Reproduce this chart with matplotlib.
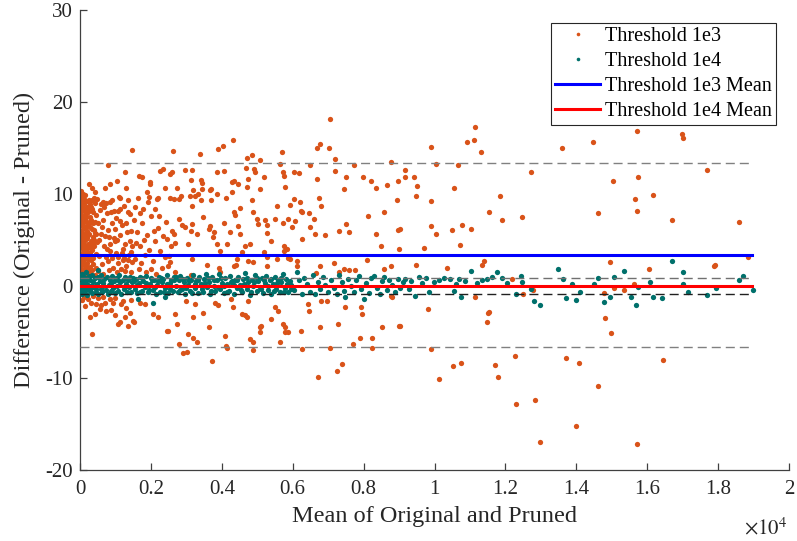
import numpy as np
import matplotlib.pyplot as plt
from matplotlib.lines import Line2D
from matplotlib.ticker import FuncFormatter

plt.rcParams['font.family'] = ['Liberation Serif', 'DejaVu Serif']
plt.rcParams['mathtext.fontset'] = 'stix'
plt.rcParams['axes.unicode_minus'] = False

# ---- Threshold 1e3 : (mean, difference) points ----
t3_dense_left = [
    (20, 9.6), (60, 8.8), (150, 9.9), (90, 9.2), (250, 9.4), (30, 8.1), (120, 8.4), (200, 7.9),
    (310, 8.6), (40, 7.3), (100, 7.6), (180, 7.1), (280, 7.5), (380, 8.0), (15, 6.6), (70, 6.9),
    (140, 6.4), (230, 6.8), (330, 6.2), (420, 7.0), (50, 5.8), (110, 5.5), (190, 6.0), (260, 5.7),
    (360, 5.3), (25, 5.0), (80, 4.7), (160, 5.1), (220, 4.6), (300, 4.9), (400, 4.4), (45, 4.1),
    (130, 3.9), (210, 4.2), (270, 3.6), (350, 3.9), (10, 3.4), (90, 3.2), (170, 3.0), (240, 3.3),
    (320, 2.8), (440, 3.5), (55, 2.6), (120, 2.3), (200, 2.5), (290, 2.1), (380, 2.4), (30, 1.9),
    (80, 1.6), (150, 1.8), (230, 1.4), (340, 1.7), (60, 1.2), (110, 8.9), (350, 9.3), (430, 9.0),
    (5, 7.8), (65, 5.3), (175, 4.3), (255, 2.0), (395, 6.1), (10, 5.9), (135, 7.3), (305, 3.2),
    (60, 9.4), (185, 8.6), (415, 5.8), (35, 2.9), (240, 9.1), (300, 7.0), (5, 1.3), (160, 1.1),
    (450, 2.0), (100, 4.4), (220, 5.5), (370, 4.6), (20, 10.3), (80, 10.0), (330, 10.6),
    (0, 9.0), (45, 9.9), (120, 9.5), (200, 9.2), (280, 8.9), (400, 9.6), (15, 8.5), (75, 8.3),
    (140, 8.0), (250, 8.2), (350, 8.4), (10, 7.0), (55, 7.6), (160, 7.5), (210, 6.5), (320, 7.2),
    (90, 6.2), (150, 5.7), (280, 6.4), (370, 6.8), (0, 5.5), (40, 4.6), (120, 4.9), (190, 5.2),
    (250, 4.2), (320, 4.4), (20, 4.2), (70, 3.7), (150, 3.4), (200, 3.8), (0, 2.8), (95, 2.7),
    (175, 2.2), (260, 2.9), (30, 2.3), (110, 1.5), (200, 1.2), (280, 1.6), (360, 3.0), (0, 1.0),
    (70, 0.9), (420, 1.2), (390, 5.0), (440, 5.6),
]
t3_dense_mid = [
    (480, 9.5), (560, 8.3), (650, 7.2), (720, 9.0), (800, 6.1), (870, 8.0), (950, 5.2), (1020, 7.4),
    (1100, 9.7), (1180, 6.6), (1250, 8.7), (1330, 5.9), (1420, 7.8), (1480, 4.4), (500, 6.9),
    (590, 5.6), (680, 4.3), (760, 7.9), (840, 3.8), (910, 6.8), (990, 4.9), (1060, 3.1), (1140, 5.5),
    (1210, 4.0), (1290, 6.9), (1370, 3.4), (1450, 6.0), (470, 4.8), (540, 3.3), (620, 2.4),
    (700, 5.4), (780, 2.7), (850, 4.6), (930, 2.0), (1010, 3.6), (1080, 2.5), (1160, 1.9),
    (1240, 3.0), (1310, 2.2), (1400, 4.9), (1470, 2.6), (520, 1.6), (600, 8.9), (640, 1.3),
    (730, 3.2), (820, 1.7), (890, 9.4), (960, 8.2), (1040, 1.5), (1120, 8.4), (1200, 2.8),
    (1270, 1.6), (1350, 8.0), (1440, 1.5), (460, 7.7), (530, 5.0), (610, 6.4), (690, 8.6),
    (760, 4.0), (830, 5.3), (900, 3.0), (980, 6.2), (1050, 5.0), (1130, 7.1), (1190, 3.6),
    (1280, 4.6), (1360, 2.8), (1430, 3.7), (850, 9.1), (650, 9.1), (1130, 9.6), (1360, 9.3),
    (1070, 8.2), (180, 8.2),
]
t3_fill = [
    (1520, 7.2), (1600, 5.9), (1680, 4.3), (1750, 6.8), (1830, 3.4), (1900, 5.5), (1990, 7.6),
    (2050, 2.7), (2120, 4.9), (2190, 6.3), (2270, 3.8), (2340, 5.4), (2420, 7.0), (2480, 2.2),
    (2560, 4.4), (1560, 2.9), (1650, 1.8), (1720, 2.5), (1860, 1.5), (1950, 3.9), (2010, 1.9),
    (2150, 1.3), (2300, 2.0), (2390, 3.1), (2600, 6.0), (1580, 4.7), (1700, 7.9), (1800, 5.0),
    (2080, 6.0), (2240, 7.6), (2450, 5.1), (2520, 3.3), (1550, 8.6), (1780, 8.4), (2110, 8.4),
    (1640, 9.6), (1920, 9.1), (2200, 9.6), (2530, 9.6),
]
t3_upper = [
    (240, 11.1), (420, 10.2), (710, 10.6), (790, 13.2), (850, 11.1), (1040, 11.4), (1270, 12.4),
    (1300, 10.7), (1460, 14.8), (1650, 12.0), (1740, 11.9), (1960, 11.3), (1980, 11.1),
    (2260, 12.5), (2340, 12.7), (2390, 10.7), (2540, 12.2), (2590, 12.4), (2620, 14.7),
    (2730, 10.65), (2970, 12.6), (3130, 11.5), (3150, 12.6), (3200, 10.4), (3390, 14.3),
    (3410, 11.5), (3440, 11.2), (3440, 10.5), (3690, 10.5), (3340, 10.0), (3860, 12.4),
    (3900, 14.9), (4040, 15.2), (4070, 12.5), (4280, 11.3), (4300, 10.25), (4310, 15.9),
    (4330, 11.4), (4450, 11.1), (4680, 12.8), (4710, 10.8), (4720, 13.9), (4750, 11.6),
    (4850, 14.2), (4920, 12.7), (4950, 12.4), (5080, 13.7), (5080, 10.5), (5180, 11.8),
    (5630, 13.3), (5700, 14.6), (5730, 12.4), (5740, 12.0), (5790, 10.8), (6030, 12.4),
    (6190, 12.3), (6480, 13.2), (6690, 15.0), (6690, 11.6), (6760, 15.4), (7010, 15.0),
    (7060, 18.1), (7180, 13.8), (7200, 12.5), (7440, 10.5), (7510, 11.9), (7720, 13.1),
    (7990, 11.8), (8210, 11.4), (8360, 10.7), (8660, 11.0), (8760, 13.5), (8960, 11.4),
]
t3_mid = [
    (1880, 10.2), (1950, 9.7), (2170, 9.5), (2640, 9.5), (2840, 9.8), (3110, 9.8), (3230, 9.8),
    (3670, 10.4), (3860, 10.0), (4120, 9.6), (2780, 9.5), (3410, 9.4), (3700, 9.3), (3160, 8.7),
    (4330, 8.0), (4520, 8.5), (4850, 9.3), (4890, 8.0), (4990, 7.3), (5010, 6.7), (5230, 7.2),
    (5270, 6.6), (5510, 7.3), (5560, 8.7), (5880, 7.3), (5930, 8.8), (6030, 9.5), (6210, 9.1),
    (6240, 8.2), (6260, 8.0), (6070, 7.1), (6450, 7.9), (6480, 6.4), (6590, 7.3), (6640, 5.65),
    (6730, 9.6), (6800, 8.7), (6920, 5.5), (7300, 6.0), (7490, 6.7), (7580, 5.9), (8120, 7.6),
    (8580, 8.0), (8350, 5.7), (8970, 6.1), (8930, 9.3), (2780, 7.3), (2870, 6.6), (2970, 6.4),
    (3150, 6.7), (3130, 6.0), (3480, 7.5), (3670, 6.5), (2640, 5.7), (3310, 5.65), (3750, 5.3),
    (2680, 4.7), (3060, 4.6), (3950, 3.8), (2540, 2.6), (3150, 2.9), (3580, 2.3), (3910, 2.0),
    (2680, 1.55), (3130, 1.2), (3950, 1.5), (3630, 6.2), (3770, 5.9), (3860, 4.6), (4220, 5.9),
    (4050, 6.9), (4360, 7.7), (4470, 6.5), (4500, 5.6), (4160, 4.6), (4410, 2.3), (4330, 2.2),
    (4430, 2.9), (4660, 4.4), (4570, 3.7), (4730, 2.75), (4890, 2.6), (4800, 4.6), (5180, 3.7),
    (5270, 3.1), (5270, 2.2), (5270, 5.8), (5390, 4.9), (5560, 2.9), (5740, 4.4), (5740, 3.8),
    (5840, 4.0), (5730, 6.9), (5980, 6.4), (5880, 3.0), (5930, 2.9), (6120, 2.75), (6120, 2.2),
    (6260, 5.1), (6780, 2.2), (6650, 1.4), (7170, 2.5), (7300, 1.55), (7440, 1.8), (7600, 1.7),
    (7770, 1.7), (8100, 2.85), (8480, 4.35), (8570, 1.8), (8760, 2.2), (8990, 4.0),
]
t3_lower = [
    (230, -1.4), (270, -3.4), (340, -5.2), (460, -2.0), (600, -2.1), (650, -1.2), (740, -2.7),
    (840, -1.4), (930, -1.8), (980, -3.2), (1120, -3.95), (1170, -2.0), (1260, -3.4),
    (1360, -4.3), (1400, -2.9), (1500, -3.8), (1690, -1.8), (1830, -2.0), (2060, -3.0),
    (2200, -3.4), (2440, -4.9), (2670, -3.0), (2740, -4.1), (2780, -6.3), (2900, -7.3),
    (3010, -7.2), (3000, -1.6), (3050, -5.2), (3190, -5.6), (3240, -2.0), (3190, -3.4),
    (3290, -6.1), (3470, -2.9), (3640, -4.5), (3720, -8.1), (3800, -1.8), (3900, -2.1),
    (4090, -5.4), (4130, -6.5), (4270, -1.4), (4320, -2.3), (4560, -3.0), (4650, -3.2),
    (4750, -1.6), (4790, -5.8), (4890, -6.1), (4890, -7.0), (5080, -4.5), (5080, -5.0),
    (5400, -3.6), (5500, -2.3), (5590, -2.7), (5640, -6.1), (5730, -4.1), (5780, -4.5),
    (5880, -5.0), (6220, -4.9), (6250, -6.8), (6440, -2.0), (6470, -2.7), (6720, -9.9),
    (6770, -4.5), (6800, -1.6), (6960, -1.6), (7050, -6.7), (7240, -9.2), (7290, -4.1),
    (7380, -8.5), (7480, -2.3), (7710, -6.3), (7900, -5.6), (7930, -2.3), (7950, -3.0),
    (8230, -5.6), (8230, -6.7), (8510, -4.5), (8780, -1.05), (8990, -4.3), (8800, -1.2),
    (565, -2.5), (1080, -4.1), (1510, -3.9), (2490, -4.9), (4140, -6.7), (4710, -3.4),
    (5100, -4.3), (5790, -5.0), (50, -1.5), (150, -2.2), (320, -1.8), (420, -3.0), (520, -1.3),
    (700, -1.9), (880, -2.6), (1000, -1.3), (1220, -1.6), (1300, -2.4), (1450, -1.5),
    (110, -1.2), (380, -1.1),
]
t3_right = [
    (9890, 15.1), (10030, 13.3), (9180, 12.6), (9180, 11.8), (9420, 11.9), (9510, 10.9),
    (9490, 9.75), (9910, 9.2), (9040, 6.2), (9910, 6.5), (10030, 5.6), (9700, 4.1), (9490, 2.3),
    (10360, 2.0), (10500, 6.1), (10780, 6.6), (10710, 4.5), (11020, 6.2), (10550, 10.65),
    (10660, 13.2), (10920, 15.7), (11110, 15.9), (11130, 17.25), (11320, 14.6), (11540, 8.0),
    (11860, 9.8), (11910, 7.2), (12460, 7.5), (12710, 12.4), (11390, 2.75), (11350, 2.3),
    (13590, 15.0), (14470, 15.7), (14600, 7.9), (14950, 2.6), (15040, 11.4), (15720, 16.9),
    (15740, 11.8), (15660, 9.5), (15710, 8.1), (16150, 9.9), (16050, 1.9), (16970, 16.5),
    (17000, 16.05), (16710, 7.2), (17700, 12.6), (17910, 2.3), (18580, 7.0), (18830, 3.2),
    (9810, -2.5), (9040, -4.3), (9910, -6.8), (10120, -10.1), (10530, -8.7), (10750, -8.4),
    (11130, -1.2), (11510, -2.9), (11490, -3.9), (11710, -8.6), (11790, -9.9), (12190, 0.76),
    (12270, -7.6), (12290, -12.8), (12500, -0.9), (12830, -12.4), (12980, -17.0), (12780, -0.4),
    (13720, -7.8), (13980, -15.2), (14080, -8.4), (14600, -10.9), (14820, -3.5), (14990, -5.1),
    (15070, -0.25), (15630, 0.2), (15720, -17.2), (16440, -8.0), (15350, -0.4), (11540, -2.8),
    (14780, -0.8), (17890, 2.2),
]

# ---- Threshold 1e4 : points ----
t4_band_left = [
    (10, 0.9), (20, -0.6), (35, 0.2), (50, 1.3), (60, -0.9), (75, 0.5), (90, -0.3), (110, 1.0),
    (120, -0.7), (140, 0.3), (160, 1.5), (170, -0.4), (190, 0.7), (210, -1.0), (230, 0.1),
    (250, 1.1), (270, -0.5), (290, 0.6), (310, -0.2), (330, 1.2), (350, -0.8), (370, 0.4),
    (400, -0.1), (420, 0.9), (440, -0.6), (470, 0.2), (500, 1.0), (510, 1.7), (520, -0.9),
    (550, 0.5), (580, -0.3), (600, 1.2), (630, -0.6), (660, 0.3), (690, 0.8), (720, -0.4),
    (750, 1.0), (780, -0.9), (810, 0.1), (840, 0.7), (870, -0.5), (900, 1.1), (930, -0.2),
    (960, 0.5), (990, -0.8), (1020, 0.9), (1050, 0.0), (1080, -0.5), (1110, 1.2), (1140, 0.4),
    (1170, -0.9), (1200, 0.7), (1230, -0.3), (1260, 1.0), (1290, 0.2), (1320, -0.7), (1350, 0.6),
    (1380, -0.1), (1410, 1.0), (1440, -0.6), (1470, 0.4), (1500, 0.9), (30, -0.1), (100, 0.2),
    (200, -0.2), (320, 0.0), (460, -0.3), (640, 0.0), (860, 0.3), (1060, 0.6), (1330, 0.0),
]
t4_band_mid = [
    (1540, -0.3), (1580, 0.8), (1620, -0.8), (1660, 0.3), (1700, 1.0), (1740, -0.5), (1790, 0.5),
    (1830, -0.1), (1870, 1.1), (1920, -0.7), (1960, 0.2), (2000, 0.9), (2050, -0.4), (2090, 0.6),
    (2140, -0.9), (2180, 0.1), (2220, 1.0), (2270, -0.6), (2310, 0.4), (2350, 0.8), (2400, -0.2),
    (2440, 1.2), (2490, -0.8), (2530, 0.3), (2570, 0.7), (2620, -0.5), (2660, 1.0), (2700, 0.0),
    (2750, -0.7), (2790, 0.6), (2830, 1.1), (2880, -0.3), (2920, 0.4), (2960, -0.9), (3010, 0.9),
    (3050, 0.1), (3100, -0.5), (3140, 0.7), (3190, 1.2), (3230, -0.2), (3280, 0.5), (3320, -0.8),
    (3370, 1.0), (3410, 0.2), (3460, -0.6), (3500, 0.8), (3550, 1.3), (3590, -0.1), (3640, 0.4),
    (3680, -0.9), (3730, 1.0), (3770, 0.0), (3820, -0.5), (3860, 0.7), (3910, 1.3), (3950, -0.3),
    (4000, 0.3), (4050, -0.8), (4090, 0.9), (4140, 0.2), (4190, -0.5), (4230, 1.1), (4280, 0.5),
    (4330, -0.9), (4370, 0.6), (4420, -0.2), (4470, 1.0), (4510, 0.1), (4560, -0.7), (4610, 0.8),
    (4650, 1.4), (4700, -0.3), (4750, 0.4), (4790, -1.0), (4840, 0.7), (4890, 0.0), (4930, 1.2),
    (4980, -0.5), (5030, 0.5), (5070, -0.1), (5120, 0.9), (5170, -0.8), (5210, 0.3), (5260, 1.1),
    (5310, -0.4), (5350, 0.6), (5400, -0.9), (5450, 0.2), (5490, 1.0), (5540, -0.3), (5590, 0.7),
    (5630, -0.6), (5680, 0.4), (5730, 1.3), (5780, -0.2), (5820, 0.8), (5870, -0.7), (5920, 0.5),
    (5960, 0.1), (1640, -1.4), (2060, -1.85), (2410, -1.2), (6120, 1.5),
]
t4_band_fill = [
    (1520, 0.5), (1600, 0.1), (1680, -0.6), (1760, 0.9), (1850, 0.3), (1940, -0.4), (2020, 0.6),
    (2110, -0.1), (2200, 0.5), (2290, 0.9), (2370, -0.6), (2460, 0.2), (2550, -0.3), (2640, 0.6),
    (2720, 1.0), (2810, -0.4), (2900, 0.8), (2990, -0.2), (3070, 0.5), (3160, -0.8), (3250, 0.2),
    (3340, 0.7), (3430, -0.3), (3520, 0.3), (3610, 0.9), (3700, -0.5), (3790, 0.6), (3880, -0.1),
    (3970, 0.9), (4060, 0.0), (4160, -0.6), (4250, 0.4), (4350, 0.1), (4440, 0.7), (4540, -0.4),
    (4630, 0.2), (4720, 0.9), (4810, -0.6), (4910, 0.4), (5000, 0.9), (5100, -0.3), (5190, 0.6),
    (5290, 0.0), (5380, 0.8), (5470, -0.5), (5570, 0.3), (5660, 0.9), (5750, -0.6), (5850, 0.2),
    (5940, -0.3),
]
t4_band_right = [
    (6050, -0.4), (6180, 0.6), (6260, -0.9), (6330, 0.9), (6400, 0.2), (6480, -0.6), (6560, 1.2),
    (6630, -0.9), (6700, 0.4), (6770, -0.3), (6850, 1.0), (6920, 0.1), (7000, -0.7), (7080, 0.7),
    (7160, -0.2), (7240, -0.9), (7300, 1.2), (7380, 0.4), (7450, -0.5), (7480, -1.2), (7560, 0.8),
    (7640, 0.0), (7720, -0.6), (7790, 0.6), (7860, 1.1), (7930, -0.3), (8000, -1.4), (8070, 0.3),
    (8150, -0.8), (8220, 0.9), (8300, 1.1), (8380, -0.2), (8470, -0.9), (8530, 0.5), (8570, 0.95),
    (8650, -0.4), (8720, 0.7), (8800, 0.1), (8880, -0.6), (8960, 0.8), (9040, -0.2), (9100, 0.4),
    (9180, 0.76), (9270, -0.3), (9460, -1.05), (9550, 0.95), (9840, -0.7), (10120, 0.6),
    (10450, 0.76), (10550, -0.5), (10690, 0.76), (10740, -1.2), (11020, 1.66), (11490, 0.76),
    (11770, 1.5), (12430, 1.1), (12480, 0.4), (12710, -0.3), (12810, -1.6), (12970, -2.1),
    (13470, 1.8), (13610, 0.76), (13720, -1.3), (13890, 0.2), (13980, -1.5), (14100, -0.7),
    (14500, 0.2), (14610, 0.85), (14780, -1.7), (14950, -1.15), (15070, 0.95), (15350, 1.6),
    (15540, -1.2), (15680, -2.07), (15730, -0.15), (16070, 0.4), (16150, -1.2), (16430, -1.3),
    (16710, 2.7), (17000, 1.55), (17020, 0.2), (17140, -0.6), (17700, -1.0), (17940, -0.2),
    (18600, 0.65), (18690, 1.1), (18980, -0.4), (9330, 0.5), (9650, 0.3), (9750, 0.9),
    (9990, 0.4), (10280, 0.9), (10600, 0.2), (10860, 0.5), (11200, 0.3), (11350, 0.6),
    (11620, 1.0), (11900, 0.9), (12050, 0.3), (12300, -0.9),
]

# summary lines
t3_mean, t3_lo, t3_hi = 3.4, -6.62, 13.42
t4_mean, t4_lo, t4_hi = 0.0, -0.87, 0.87
line_end = 18960

c_t3 = '#D95319'
c_t4 = '#00706B'

t3 = np.array(t3_dense_left + t3_dense_mid + t3_fill + t3_upper + t3_mid + t3_lower + t3_right)
t4 = np.array(t4_band_left + t4_band_mid + t4_band_fill + t4_band_right)

fig = plt.figure(figsize=(7.97, 5.41), dpi=100)
ax = fig.add_axes([0.1004, 0.1312, 0.8896, 0.8503])

ax.plot(t3[:, 0], t3[:, 1], 'o', ms=3.8, color=c_t3, mec='none', zorder=2)
ax.plot(t4[:, 0], t4[:, 1], 'o', ms=3.8, color=c_t4, mec='none', zorder=3)

ax.plot([0, line_end], [t3_mean, t3_mean], color='#0000FF', lw=2.2, zorder=5)
ax.plot([0, line_end], [t4_mean, t4_mean], color='#FF0000', lw=2.2, zorder=5)
for v in (t3_hi, t3_lo):
    ax.plot([0, line_end], [v, v], color='#808080', lw=1.0, dashes=(6.5, 3.6), zorder=4)
ax.plot([0, line_end], [t4_hi, t4_hi], color='#707070', lw=1.0, dashes=(6.5, 3.6), zorder=4)
ax.plot([0, line_end], [t4_lo, t4_lo], color='#202020', lw=1.0, dashes=(6.5, 3.6), zorder=4)

ax.set_xlim(0, 20000)
ax.set_ylim(-20, 30)
ax.set_xticks(np.arange(0, 20001, 2000))
ax.set_yticks([-20, -10, 0, 10, 20, 30])
ax.xaxis.set_major_formatter(FuncFormatter(lambda v, p: f'{v / 1e4:g}'))

for s in ('top', 'right'):
    ax.spines[s].set_visible(False)
for s in ('left', 'bottom'):
    ax.spines[s].set_color('#404040')
    ax.spines[s].set_linewidth(0.9)
ax.tick_params(direction='in', length=5, width=0.9, color='#404040',
               labelcolor='#262626', labelsize=15)
ax.tick_params(axis='x', pad=7)
ax.tick_params(axis='y', pad=5)

ax.set_xlabel('Mean of Original and Pruned', fontsize=17.5, color='#262626')
ax.set_ylabel('Difference (Original - Pruned)', fontsize=17.5, color='#262626')
ax.xaxis.set_label_coords(0.5, -0.078)
ax.yaxis.set_label_coords(-0.064, 0.5)
ax.text(0.998, -0.139, r'$\times10^{4}$', transform=ax.transAxes, ha='right',
        va='baseline', fontsize=15, color='#262626')

handles = [
    Line2D([], [], ls='none', marker='o', ms=2.6, color=c_t3, mec='none'),
    Line2D([], [], ls='none', marker='o', ms=2.6, color=c_t4, mec='none'),
    Line2D([], [], color='#0000FF', lw=2.2),
    Line2D([], [], color='#FF0000', lw=2.2),
]
labels = ['Threshold 1e3', 'Threshold 1e4', 'Threshold 1e3 Mean', 'Threshold 1e4 Mean']
leg = ax.legend(handles, labels, loc='upper right', bbox_to_anchor=(0.9817, 0.9717),
                fontsize=14.5, frameon=True, fancybox=False, framealpha=1,
                edgecolor='#262626', borderpad=0.2, labelspacing=0.29,
                handlelength=2.23, handletextpad=0.25, borderaxespad=0)
leg.get_frame().set_linewidth(0.8)

fig.savefig('out.png', dpi=100)
